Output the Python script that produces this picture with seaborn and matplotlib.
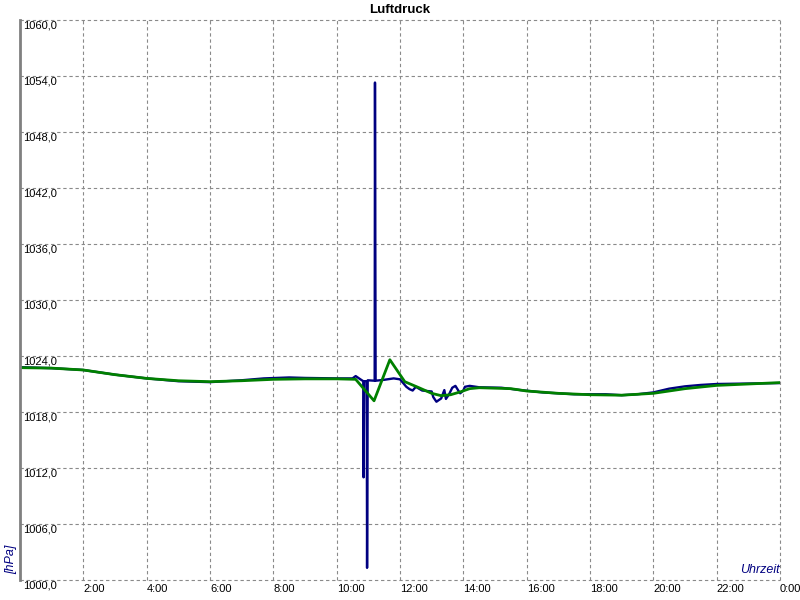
import matplotlib
matplotlib.use("Agg")
import matplotlib.pyplot as plt
import seaborn as sns

# raw pressure readings (hours, hPa)
raw_hours = [0.0, 0.5, 1.0, 2.0, 3.0, 4.0, 5.0, 6.0, 6.5, 7.0, 7.7, 8.5, 9.0, 10.0,
             10.5, 10.6, 10.75, 10.84, 10.85, 10.87, 10.95, 10.96, 10.98, 11.2,
             11.21, 11.23, 11.5, 11.8, 12.0, 12.2, 12.3, 12.4, 12.5, 12.7, 13.0,
             13.05, 13.15, 13.3, 13.35, 13.4, 13.45, 13.55, 13.65, 13.75, 13.85,
             13.9, 14.0, 14.05, 14.2, 14.5, 15.2, 15.8, 16.5, 17.5, 18.5, 19.0,
             19.5, 20.0, 20.5, 21.0, 21.5, 22.0, 23.0, 24.0]
raw_hpa = [1022.8, 1022.75, 1022.7, 1022.5, 1022.0, 1021.6, 1021.3, 1021.2, 1021.3,
           1021.4, 1021.6, 1021.7, 1021.65, 1021.6, 1021.6, 1021.85, 1021.5, 1021.3,
           1011.0, 1021.3, 1021.3, 1001.3, 1021.4, 1021.35, 1053.3, 1021.35,
           1021.45, 1021.6, 1021.5, 1020.7, 1020.45, 1020.3, 1020.7, 1020.3, 1020.2,
           1019.6, 1019.1, 1019.45, 1019.9, 1020.35, 1019.4, 1019.9, 1020.6, 1020.8,
           1020.25, 1020.0, 1020.3, 1020.7, 1020.8, 1020.65, 1020.6, 1020.35, 1020.1,
           1019.9, 1019.9, 1019.8, 1019.9, 1020.1, 1020.5, 1020.75, 1020.9, 1021.0,
           1021.05, 1021.1]

# smoothed curve
avg_hours = [0, 1, 2, 3, 4, 5, 6, 7, 8, 9, 10, 10.6, 11.18, 11.68, 12.15, 12.6, 13.0,
             13.3, 13.6, 13.9, 14.2, 14.5, 15.5, 16, 17, 18, 19, 20, 21, 22, 23, 24]
avg_hpa = [1022.75, 1022.7, 1022.5, 1022.0, 1021.6, 1021.35, 1021.25, 1021.35, 1021.5,
           1021.55, 1021.55, 1021.5, 1019.2, 1023.6, 1021.25, 1020.6, 1020.0, 1019.75,
           1019.85, 1020.15, 1020.5, 1020.6, 1020.5, 1020.25, 1020.0, 1019.85, 1019.8,
           1020.0, 1020.5, 1020.85, 1021.0, 1021.15]

y_ticks = [1000, 1006, 1012, 1018, 1024, 1030, 1036, 1042, 1048, 1054, 1060]
y_labels = ["1000,0", "1006,0", "1012,0", "1018,0", "1024,0", "1030,0", "1036,0",
            "1042,0", "1048,0", "1054,0", "1060,0"]
x_ticks = [2, 4, 6, 8, 10, 12, 14, 16, 18, 20, 22, 24]
x_labels = ["2:00", "4:00", "6:00", "8:00", "10:00", "12:00", "14:00", "16:00",
            "18:00", "20:00", "22:00", "0:00"]

sns.set_style("white")
plt.rcParams["font.family"] = ["Liberation Sans", "DejaVu Sans"]

fig = plt.figure(figsize=(8, 6), dpi=100)
ax = fig.add_axes([0.025, 1 - 580 / 600, 0.95, 560 / 600])
ax.set_axisbelow(True)

sns.lineplot(x=raw_hours, y=raw_hpa, ax=ax, color="#000080", lw=1.7,
             estimator=None, sort=False)
sns.lineplot(x=avg_hours, y=avg_hpa, ax=ax, color="#008000", lw=2.0,
             estimator=None, sort=False)

ax.set_xlim(0, 24)
ax.set_ylim(1000, 1060)
ax.set_xticks(x_ticks)
ax.set_xticklabels(x_labels, ha="left", fontsize=8, color="black")
ax.set_yticks(y_ticks)
ax.set_yticklabels(y_labels, ha="left", va="top", fontsize=8, color="black")
ax.tick_params(axis="y", length=0, pad=-2)
ax.tick_params(axis="x", length=0, pad=3)
ax.set_xlabel("")
ax.set_ylabel("")

ax.grid(True, color="#8a8a8a", linestyle=(0, (3, 2.5)), lw=0.8)
# edge gridlines would otherwise be half clipped
for gl in ax.get_xgridlines() + ax.get_ygridlines():
    gl.set_clip_on(False)
for side in ["top", "right", "bottom"]:
    ax.spines[side].set_visible(False)
ax.spines["left"].set_color("#808080")
ax.spines["left"].set_linewidth(2)

fig.text(0.5, 1 - 10 / 600, "Luftdruck", ha="center", va="center",
         fontsize=9.5, fontweight="bold", color="black")
fig.text(11 / 800, 1 - 559 / 600, "[hPa]", rotation=90, ha="center", va="center",
         fontsize=9, style="italic", color="#000080")
fig.text(780 / 800, 1 - 570 / 600, "Uhrzeit", ha="right", va="center",
         fontsize=9, style="italic", color="#000080")

fig.savefig("out.png", dpi=100)
